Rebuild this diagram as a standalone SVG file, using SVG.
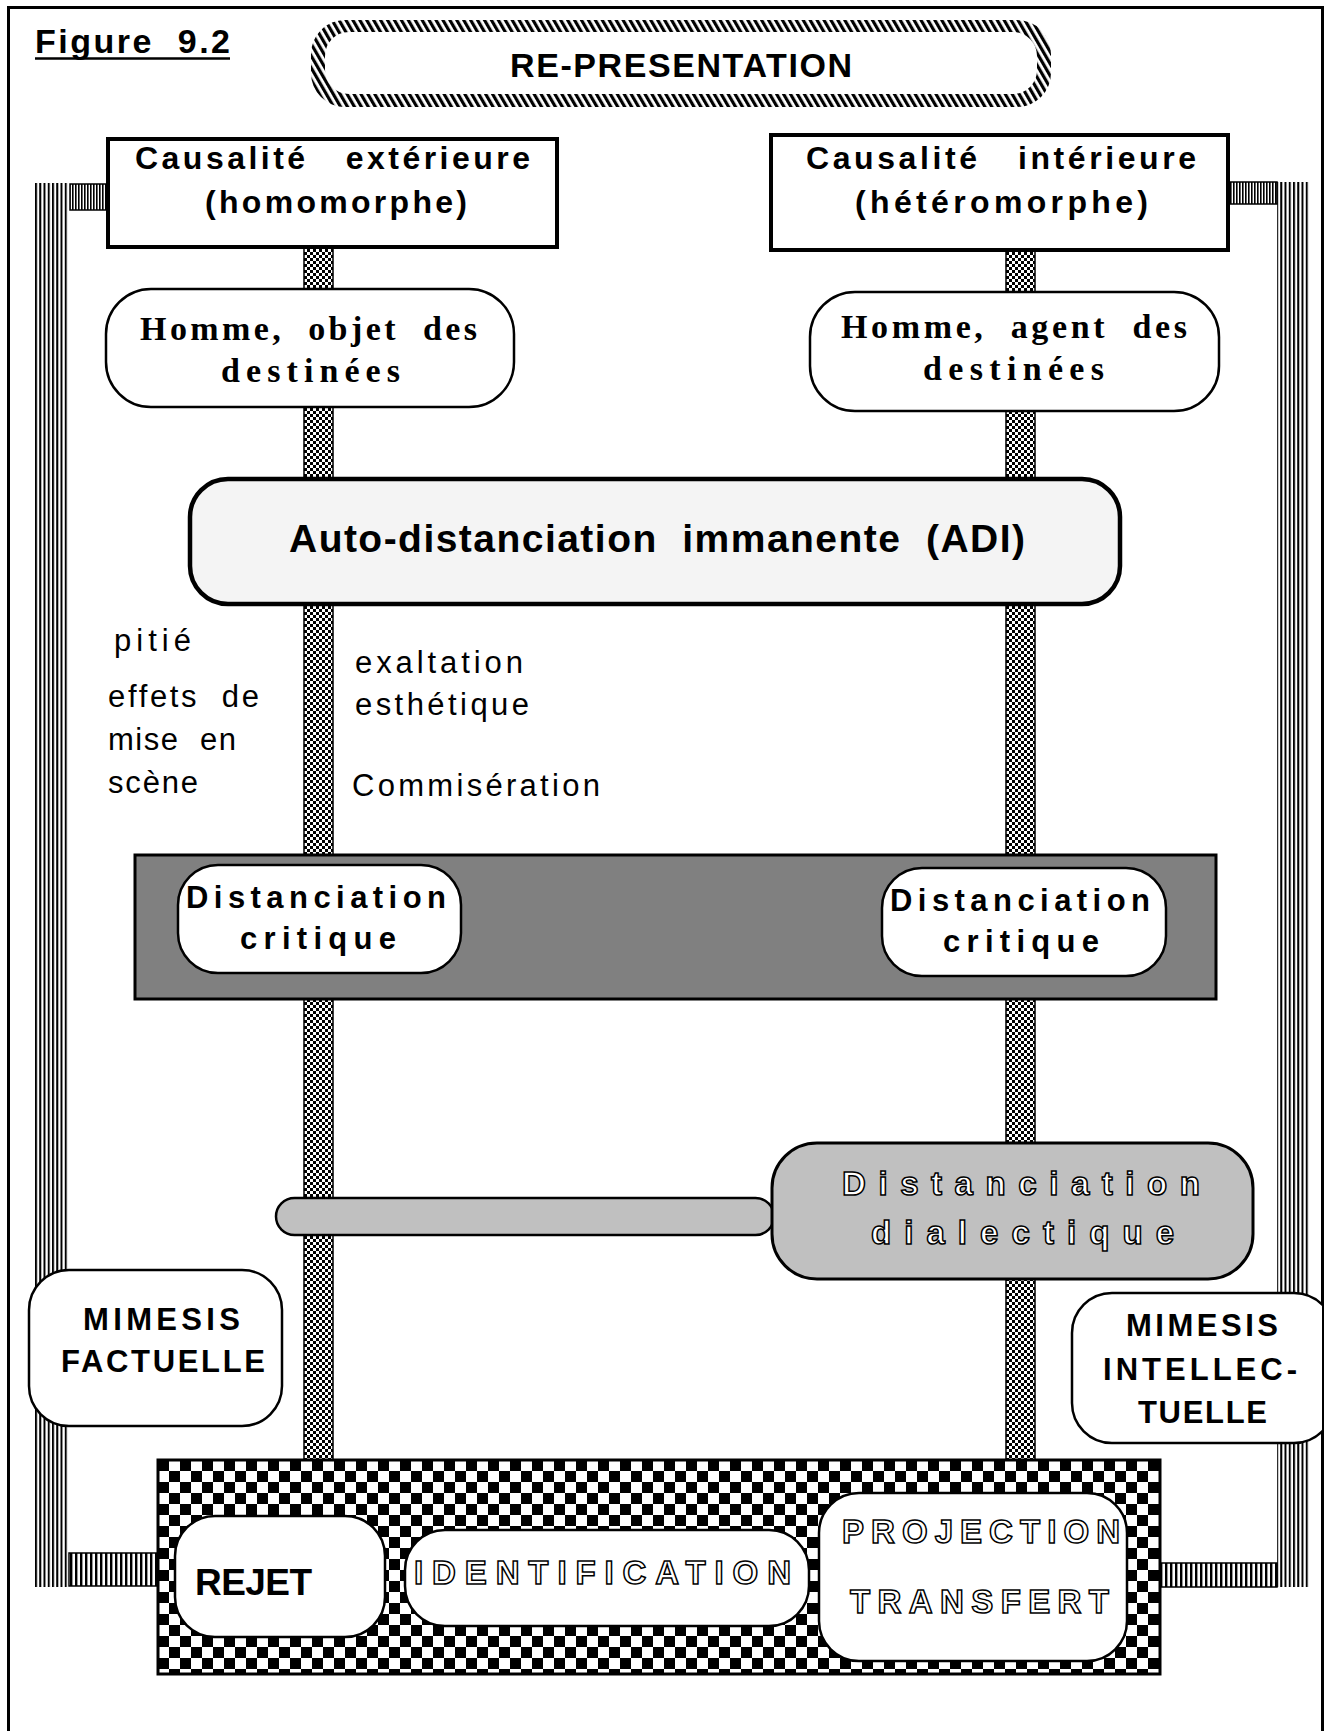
<svg xmlns="http://www.w3.org/2000/svg" width="1331" height="1731" viewBox="0 0 1331 1731">
<style>
text { white-space: pre; }
.b { font-family: "Liberation Sans", Arial, sans-serif; font-weight: bold; fill: #000; }
.r { font-family: "Liberation Sans", Arial, sans-serif; fill: #000; }
.t { font-family: "Liberation Serif", "Times New Roman", serif; font-weight: bold; fill: #000; }
.o { font-family: "Liberation Sans", Arial, sans-serif; font-weight: bold; fill: #fff; stroke: #000; stroke-width: 1.5; }
.box { fill: #fff; stroke: #000; stroke-width: 2.5; }
.trunk { fill: url(#chk); stroke: #000; stroke-width: 1.5; }
.bar { fill: url(#vstripe); }
.conn { fill: url(#vfine); stroke: #000; stroke-width: 1.5; }
.conn2 { fill: url(#vmed); stroke: #000; stroke-width: 1.5; }
</style>
<defs>
  <pattern id="chk" patternUnits="userSpaceOnUse" x="304" width="6" height="6">
    <rect width="6" height="6" fill="#fff"/>
    <rect width="3" height="3" fill="#000"/>
    <rect x="3" y="3" width="3" height="3" fill="#000"/>
  </pattern>
  <pattern id="vstripe" patternUnits="userSpaceOnUse" x="35" width="4.25" height="10">
    <rect width="4.25" height="10" fill="#fff"/>
    <rect width="2" height="10" fill="#000"/>
  </pattern>
  <pattern id="vfine" patternUnits="userSpaceOnUse" width="3" height="10">
    <rect width="3" height="10" fill="#fff"/>
    <rect width="1.6" height="10" fill="#000"/>
  </pattern>
  <pattern id="vmed" patternUnits="userSpaceOnUse" width="5" height="10">
    <rect width="5" height="10" fill="#fff"/>
    <rect width="2.4" height="10" fill="#000"/>
  </pattern>
  <pattern id="diag" patternUnits="userSpaceOnUse" width="6" height="20" patternTransform="rotate(-30)">
    <rect width="6" height="20" fill="#fff"/>
    <rect width="3.2" height="20" fill="#000"/>
  </pattern>
  <pattern id="bigchk" patternUnits="userSpaceOnUse" x="158" y="1460" width="22" height="22">
    <rect width="22" height="22" fill="#fff"/>
    <rect width="11" height="11" fill="#000"/>
    <rect x="11" y="11" width="11" height="11" fill="#000"/>
  </pattern>
  <clipPath id="frameclip">
    <rect x="0" y="0" width="1322" height="1731"/>
  </clipPath>
</defs>

<!-- frame -->
<path d="M8.5,1731 V7.5 H1322.5 V1731" fill="none" stroke="#000" stroke-width="3"/>

<g id="title">
  <text class="b" x="35" y="53" font-size="34" textLength="195">Figure  9.2</text>
  <line x1="35" y1="58.5" x2="230" y2="58.5" stroke="#000" stroke-width="2.5"/>
</g>

<g id="connectors">
  <!-- side bars -->
  <rect class="bar" x="35" y="183" width="34" height="1404"/>
  <rect class="bar" x="1277" y="182" width="32" height="1405"/>
  <!-- top side connectors -->
  <rect class="conn" x="70" y="184" width="38" height="26"/>
  <rect class="conn" x="1228" y="182" width="49" height="22"/>
  <!-- bottom side connectors -->
  <rect class="conn2" x="69" y="1553" width="90" height="33"/>
  <rect class="conn2" x="1160" y="1563" width="117" height="24"/>
  <!-- trunks -->
  <rect class="trunk" x="304" y="247" width="29" height="1214"/>
  <rect class="trunk" x="1006" y="250" width="29" height="1211"/>
</g>

<g id="re-presentation">
  <rect x="311" y="20" width="740" height="87" rx="34" fill="url(#diag)"/>
  <rect x="325" y="32" width="712" height="62" rx="24" fill="#fff"/>
  <text class="b" x="681" y="77" font-size="34" text-anchor="middle" textLength="342">RE-PRESENTATION</text>
</g>

<g id="causalite-ext">
  <rect x="108" y="139" width="449" height="108" fill="#fff" stroke="#000" stroke-width="4"/>
  <text class="b" x="135" y="169" font-size="32" textLength="395">Causalité   extérieure</text>
  <text class="b" x="205" y="213" font-size="32" textLength="262">(homomorphe)</text>
</g>

<g id="causalite-int">
  <rect x="771" y="135" width="457" height="115" fill="#fff" stroke="#000" stroke-width="4"/>
  <text class="b" x="806" y="169" font-size="32" textLength="390">Causalité   intérieure</text>
  <text class="b" x="855" y="213" font-size="32" textLength="293">(hétéromorphe)</text>
</g>

<g id="homme-objet">
  <rect class="box" x="106" y="289" width="408" height="118" rx="45"/>
  <text class="t" x="140" y="340" font-size="34" textLength="337">Homme,  objet  des</text>
  <text class="t" x="221" y="382" font-size="34" textLength="179">destinées</text>
</g>

<g id="homme-agent">
  <rect class="box" x="810" y="292" width="409" height="119" rx="45"/>
  <text class="t" x="841" y="338" font-size="34" textLength="346">Homme,  agent  des</text>
  <text class="t" x="923" y="380" font-size="34" textLength="181">destinées</text>
</g>

<g id="adi">
  <rect x="190" y="479" width="930" height="125" rx="38" fill="#f4f4f4" stroke="#000" stroke-width="4.5"/>
  <text class="b" x="289" y="552" font-size="39" textLength="736">Auto-distanciation  immanente  (ADI)</text>
</g>

<g id="labels-left">
  <text class="r" x="114" y="651" font-size="31" textLength="77">pitié</text>
  <text class="r" x="108" y="707" font-size="31" textLength="151">effets  de</text>
  <text class="r" x="108" y="750" font-size="31" textLength="128">mise  en</text>
  <text class="r" x="108" y="793" font-size="31" textLength="90">scène</text>
</g>
<g id="labels-right">
  <text class="r" x="355" y="673" font-size="31" textLength="168">exaltation</text>
  <text class="r" x="355" y="715" font-size="31" textLength="174">esthétique</text>
  <text class="r" x="352" y="796" font-size="31" textLength="248">Commisération</text>
</g>

<g id="critique-band">
  <rect x="135" y="855" width="1081" height="144" fill="#808080" stroke="#000" stroke-width="3"/>
</g>
<g id="critique-left">
  <rect class="box" x="178" y="865" width="283" height="108" rx="40"/>
  <text class="b" x="186" y="908" font-size="31" textLength="260">Distanciation</text>
  <text class="b" x="240" y="949" font-size="31" textLength="156">critique</text>
</g>
<g id="critique-right">
  <rect class="box" x="882" y="868" width="284" height="108" rx="40"/>
  <text class="b" x="890" y="911" font-size="31" textLength="260">Distanciation</text>
  <text class="b" x="943" y="952" font-size="31" textLength="156">critique</text>
</g>

<g id="pill">
  <rect x="276" y="1198" width="498" height="37" rx="18.5" fill="#c0c0c0" stroke="#000" stroke-width="2.5"/>
</g>

<g id="dialectique">
  <rect x="772" y="1143" width="481" height="136" rx="45" fill="#c0c0c0" stroke="#000" stroke-width="3"/>
  <text class="o" x="842" y="1195" font-size="33" textLength="358">Distanciation</text>
  <text class="o" x="871" y="1244" font-size="33" textLength="303">dialectique</text>
</g>

<g id="mimesis-factuelle">
  <rect class="box" x="29" y="1270" width="253" height="156" rx="40"/>
  <text class="b" x="83" y="1330" font-size="31" textLength="157">MIMESIS</text>
  <text class="b" x="61" y="1372" font-size="31" textLength="204">FACTUELLE</text>
</g>

<g id="mimesis-intellectuelle" clip-path="url(#frameclip)">
  <rect class="box" x="1072" y="1293" width="262" height="150" rx="40"/>
  <text class="b" x="1126" y="1336" font-size="31" textLength="152">MIMESIS</text>
  <text class="b" x="1103" y="1380" font-size="31" textLength="194">INTELLEC-</text>
  <text class="b" x="1138" y="1423" font-size="31" textLength="129">TUELLE</text>
</g>

<g id="reactions">
  <rect x="158" y="1460" width="1002" height="214" fill="url(#bigchk)" stroke="#000" stroke-width="3"/>
</g>
<g id="rejet">
  <rect class="box" x="175" y="1516" width="210" height="121" rx="40"/>
  <text class="b" x="195" y="1595" font-size="37" textLength="117">REJET</text>
</g>
<g id="identification">
  <rect class="box" x="405" y="1530" width="404" height="96" rx="40"/>
  <text class="o" x="414" y="1584" font-size="33" textLength="377">IDENTIFICATION</text>
</g>
<g id="projection">
  <rect class="box" x="819" y="1493" width="308" height="168" rx="40"/>
  <text class="o" x="842" y="1543" font-size="33" textLength="278">PROJECTION</text>
  <text class="o" x="850" y="1613" font-size="33" textLength="259">TRANSFERT</text>
</g>
</svg>
